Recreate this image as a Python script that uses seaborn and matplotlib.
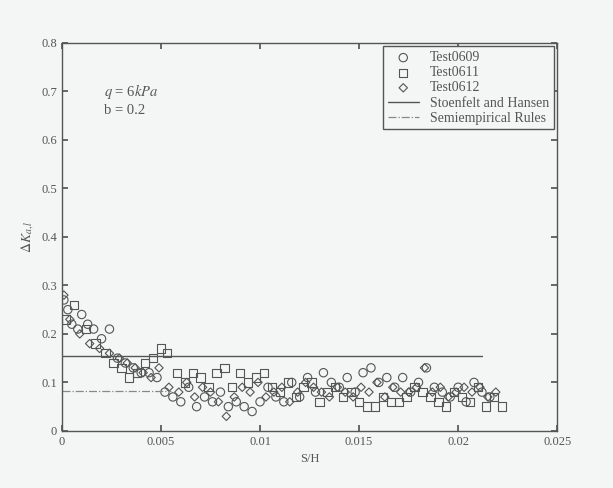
import numpy as np
import pandas as pd
import matplotlib
matplotlib.use("Agg")
import matplotlib.pyplot as plt
import seaborn as sns

# data
x_0609 = [0.0001, 0.0003, 0.0005, 0.0008, 0.0010, 0.0013, 0.0016, 0.0020, 0.0024, 0.0028,
          0.0032, 0.0036, 0.0040, 0.0044, 0.0048, 0.0052, 0.0056, 0.0060, 0.0064, 0.0068,
          0.0072, 0.0076, 0.0080, 0.0084, 0.0088, 0.0092, 0.0096, 0.0100, 0.0104, 0.0108,
          0.0112, 0.0116, 0.0120, 0.0124, 0.0128, 0.0132, 0.0136, 0.0140, 0.0144, 0.0148,
          0.0152, 0.0156, 0.0160, 0.0164, 0.0168, 0.0172, 0.0176, 0.0180, 0.0184, 0.0188,
          0.0192, 0.0196, 0.0200, 0.0204, 0.0208, 0.0212, 0.0216]
y_0609 = [0.27, 0.25, 0.22, 0.21, 0.24, 0.22, 0.21, 0.19, 0.21, 0.15,
          0.14, 0.13, 0.12, 0.12, 0.11, 0.08, 0.07, 0.06, 0.09, 0.05,
          0.07, 0.06, 0.08, 0.05, 0.06, 0.05, 0.04, 0.06, 0.09, 0.07,
          0.06, 0.10, 0.07, 0.11, 0.08, 0.12, 0.10, 0.09, 0.11, 0.08,
          0.12, 0.13, 0.10, 0.11, 0.09, 0.11, 0.08, 0.10, 0.13, 0.09,
          0.08, 0.07, 0.09, 0.06, 0.10, 0.08, 0.07]

x_0611 = [0.0002, 0.0006, 0.0012, 0.0017, 0.0022, 0.0026, 0.0030, 0.0034, 0.0038, 0.0042,
          0.0046, 0.0050, 0.0053, 0.0058, 0.0062, 0.0066, 0.0070, 0.0074, 0.0078, 0.0082,
          0.0086, 0.0090, 0.0094, 0.0098, 0.0102, 0.0106, 0.0110, 0.0114, 0.0118, 0.0122,
          0.0126, 0.0130, 0.0134, 0.0138, 0.0142, 0.0146, 0.0150, 0.0154, 0.0158, 0.0162,
          0.0166, 0.0170, 0.0174, 0.0178, 0.0182, 0.0186, 0.0190, 0.0194, 0.0198, 0.0202,
          0.0206, 0.0210, 0.0214, 0.0218, 0.0222]
y_0611 = [0.23, 0.26, 0.21, 0.18, 0.16, 0.14, 0.13, 0.11, 0.12, 0.14,
          0.15, 0.17, 0.16, 0.12, 0.10, 0.12, 0.11, 0.09, 0.12, 0.13,
          0.09, 0.12, 0.10, 0.11, 0.12, 0.09, 0.08, 0.10, 0.07, 0.09,
          0.10, 0.06, 0.08, 0.09, 0.07, 0.08, 0.06, 0.05, 0.05, 0.07,
          0.06, 0.06, 0.07, 0.09, 0.08, 0.07, 0.06, 0.05, 0.08, 0.07,
          0.06, 0.09, 0.05, 0.07, 0.05]

x_0612 = [0.0001, 0.0004, 0.0009, 0.0014, 0.0019, 0.0024, 0.0029, 0.0033, 0.0037, 0.0041,
          0.0045, 0.0049, 0.0054, 0.0059, 0.0063, 0.0067, 0.0071, 0.0075, 0.0079, 0.0083,
          0.0087, 0.0091, 0.0095, 0.0099, 0.0103, 0.0107, 0.0111, 0.0115, 0.0119, 0.0123,
          0.0127, 0.0131, 0.0135, 0.0139, 0.0143, 0.0147, 0.0151, 0.0155, 0.0159, 0.0163,
          0.0167, 0.0171, 0.0175, 0.0179, 0.0183, 0.0187, 0.0191, 0.0195, 0.0199, 0.0203,
          0.0207, 0.0211, 0.0215, 0.0219]
y_0612 = [0.28, 0.23, 0.20, 0.18, 0.17, 0.16, 0.15, 0.14, 0.13, 0.12,
          0.11, 0.13, 0.09, 0.08, 0.10, 0.07, 0.09, 0.08, 0.06, 0.03,
          0.07, 0.09, 0.08, 0.10, 0.07, 0.08, 0.09, 0.06, 0.08, 0.10,
          0.09, 0.08, 0.07, 0.09, 0.08, 0.07, 0.09, 0.08, 0.10, 0.07,
          0.09, 0.08, 0.08, 0.09, 0.13, 0.08, 0.09, 0.07, 0.08, 0.09,
          0.08, 0.09, 0.07, 0.08]

stoenfelt_x = [0.0, 0.0212]
stoenfelt_y = [0.155, 0.155]
semi_x = [0.0, 0.0055]
semi_y = [0.083, 0.083]

x_ticks = [0, 0.005, 0.01, 0.015, 0.02, 0.025]
x_tick_labels = ["0", "0.005", "0.01", "0.015", "0.02", "0.025"]
y_ticks = [0, 0.1, 0.2, 0.3, 0.4, 0.5, 0.6, 0.7, 0.8]
y_tick_labels = ["0", "0.1", "0.2", "0.3", "0.4", "0.5", "0.6", "0.7", "0.8"]

ink = "#555555"
paper = "#f4f5f5"

sns.set_theme(style="ticks")
plt.rcParams['font.family'] = ['Liberation Serif', 'DejaVu Serif']
plt.rcParams['mathtext.fontset'] = 'stix'
plt.rcParams['xtick.direction'] = 'in'
plt.rcParams['ytick.direction'] = 'in'

fig = plt.figure(figsize=(6.13, 4.88), dpi=100, facecolor=paper)
ax = fig.add_axes([0.101, 0.117, 0.808, 0.795])
ax.set_facecolor(paper)

series = [("Test0609", x_0609, y_0609, "o", 36),
          ("Test0611", x_0611, y_0611, "s", 36),
          ("Test0612", x_0612, y_0612, "D", 18)]
for name, xs, ys, mk, sz in series:
    df = pd.DataFrame({"x": xs, "y": ys})
    sns.scatterplot(data=df, x="x", y="y", marker=mk, s=sz, facecolor="none",
                    edgecolor=ink, linewidth=0.8, label=name, ax=ax)

sns.lineplot(x=stoenfelt_x, y=stoenfelt_y, color=ink, linewidth=1.0,
             label="Stoenfelt and Hansen", ax=ax)
sns.lineplot(x=semi_x, y=semi_y, color="#888888", linewidth=0.9, linestyle="-.",
             label="Semiempirical Rules", ax=ax)

ax.set_xlim(0, 0.025)
ax.set_ylim(0, 0.8)
ax.set_xticks(x_ticks)
ax.set_xticklabels(x_tick_labels)
ax.set_yticks(y_ticks)
ax.set_yticklabels(y_tick_labels)
ax.tick_params(colors=ink, labelsize=9, length=4, top=True, right=True)
for sp in ax.spines.values():
    sp.set_color(ink)
    sp.set_linewidth(1.0)

ax.set_xlabel("S/H", fontsize=9, color=ink)
ax.set_ylabel(r"$\Delta K_{a,l}$", fontsize=10, color=ink)

ax.text(0.0021, 0.70, r"$q$ = 6$kPa$", fontsize=10.5, color=ink, va="center")
ax.text(0.0021, 0.66, "b = 0.2", fontsize=10.5, color=ink, va="center")

leg = ax.legend(loc="upper right", fontsize=10, fancybox=False, framealpha=1,
                facecolor=paper, edgecolor=ink, borderaxespad=0.25,
                handlelength=2.2, labelspacing=0.15, borderpad=0.35)
for t in leg.get_texts():
    t.set_color(ink)

fig.savefig("out.png", dpi=100, facecolor=paper)
